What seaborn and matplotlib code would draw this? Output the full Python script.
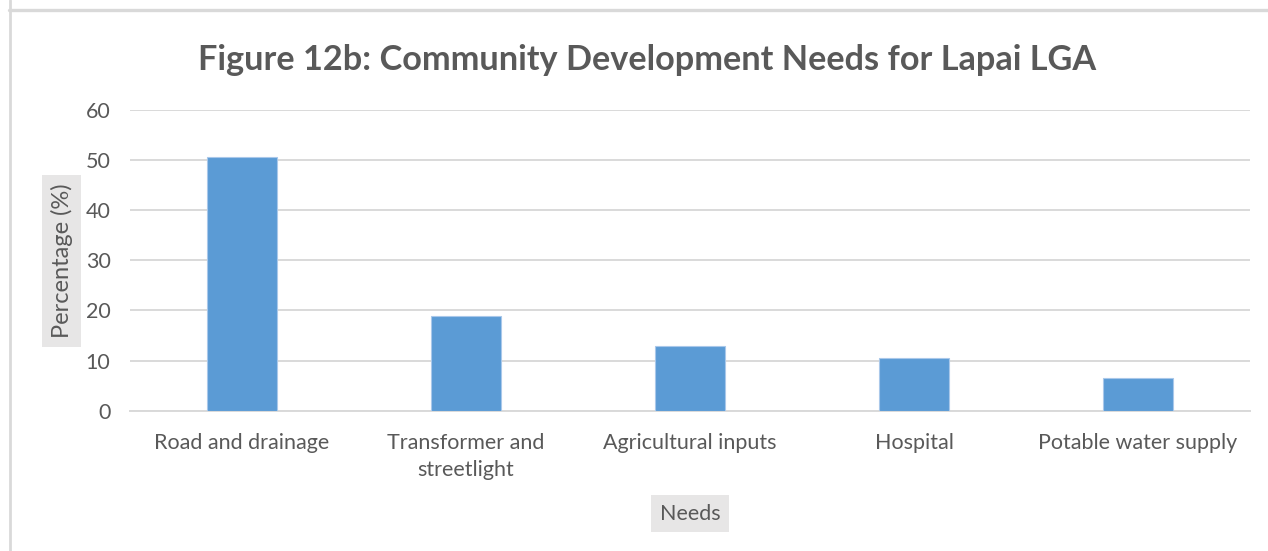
import matplotlib
matplotlib.use("Agg")
import matplotlib.pyplot as plt
from matplotlib.lines import Line2D
import seaborn as sns
import pandas as pd

# Survey results: share of respondents naming each need
needs = ["Road and drainage", "Transformer and\nstreetlight", "Agricultural inputs",
         "Hospital", "Potable water supply"]
percentages = [50.7, 18.8, 13.0, 10.6, 6.5]
y_ticks = [0, 10, 20, 30, 40, 50, 60]

title = "Figure 12b: Community Development Needs for Lapai LGA"
x_label = "Needs"
y_label = "Percentage (%)"

sns.set_theme(style="white")
plt.rcParams["font.family"] = ["Lato", "DejaVu Sans"]

text_color = "#595959"
grid_color = "#d9d9d9"
bar_color = "#5b9bd5"

df = pd.DataFrame({"need": needs, "pct": percentages})

fig = plt.figure(figsize=(12.68, 5.51), dpi=100)
ax = fig.add_axes([0.1025, 0.2546, 0.8833, 0.5458])

sns.barplot(data=df, x="need", y="pct", color=bar_color, width=0.3125,
            edgecolor="#a9c8ea", linewidth=0.8, saturation=1, ax=ax, zorder=3)

ax.set_ylim(0, 60)
ax.set_yticks(y_ticks)
ax.set_xlim(-0.5, len(needs) - 0.5)
ax.yaxis.grid(True, color=grid_color, linewidth=1.4, zorder=0)
ax.set_axisbelow(True)
for side in ["top", "right", "left"]:
    ax.spines[side].set_visible(False)
ax.spines["bottom"].set_color(grid_color)
ax.spines["bottom"].set_linewidth(1.4)

ax.tick_params(axis="both", length=0, colors=text_color, labelsize=15.5)
ax.tick_params(axis="y", pad=14)
ax.tick_params(axis="x", pad=16)
for lbl in ax.get_xticklabels():
    lbl.set_linespacing(1.45)

ax.set_xlabel(x_label, fontsize=15.5, color=text_color, va="center", ha="center",
              bbox=dict(facecolor="#e7e6e6", edgecolor="none", pad=6))
ax.xaxis.set_label_coords(0.5, -0.342)
ax.set_ylabel(y_label, fontsize=17, color=text_color, va="center", ha="center",
              bbox=dict(facecolor="#e7e6e6", edgecolor="none", pad=6))
ax.yaxis.set_label_coords(-0.061, 0.498)

fig.text(0.510, 0.891, title, ha="center", va="center", fontsize=24.7,
         fontweight="bold", color=text_color)

# Outer chart frame (top and left edges)
fig.add_artist(Line2D([0.007, 1.0], [0.9819, 0.9819], transform=fig.transFigure,
                      color=grid_color, linewidth=2.4))
fig.add_artist(Line2D([0.0079, 0.0079], [0.0, 1.0], transform=fig.transFigure,
                      color=grid_color, linewidth=2.0))

fig.savefig("out.png", dpi=100)
